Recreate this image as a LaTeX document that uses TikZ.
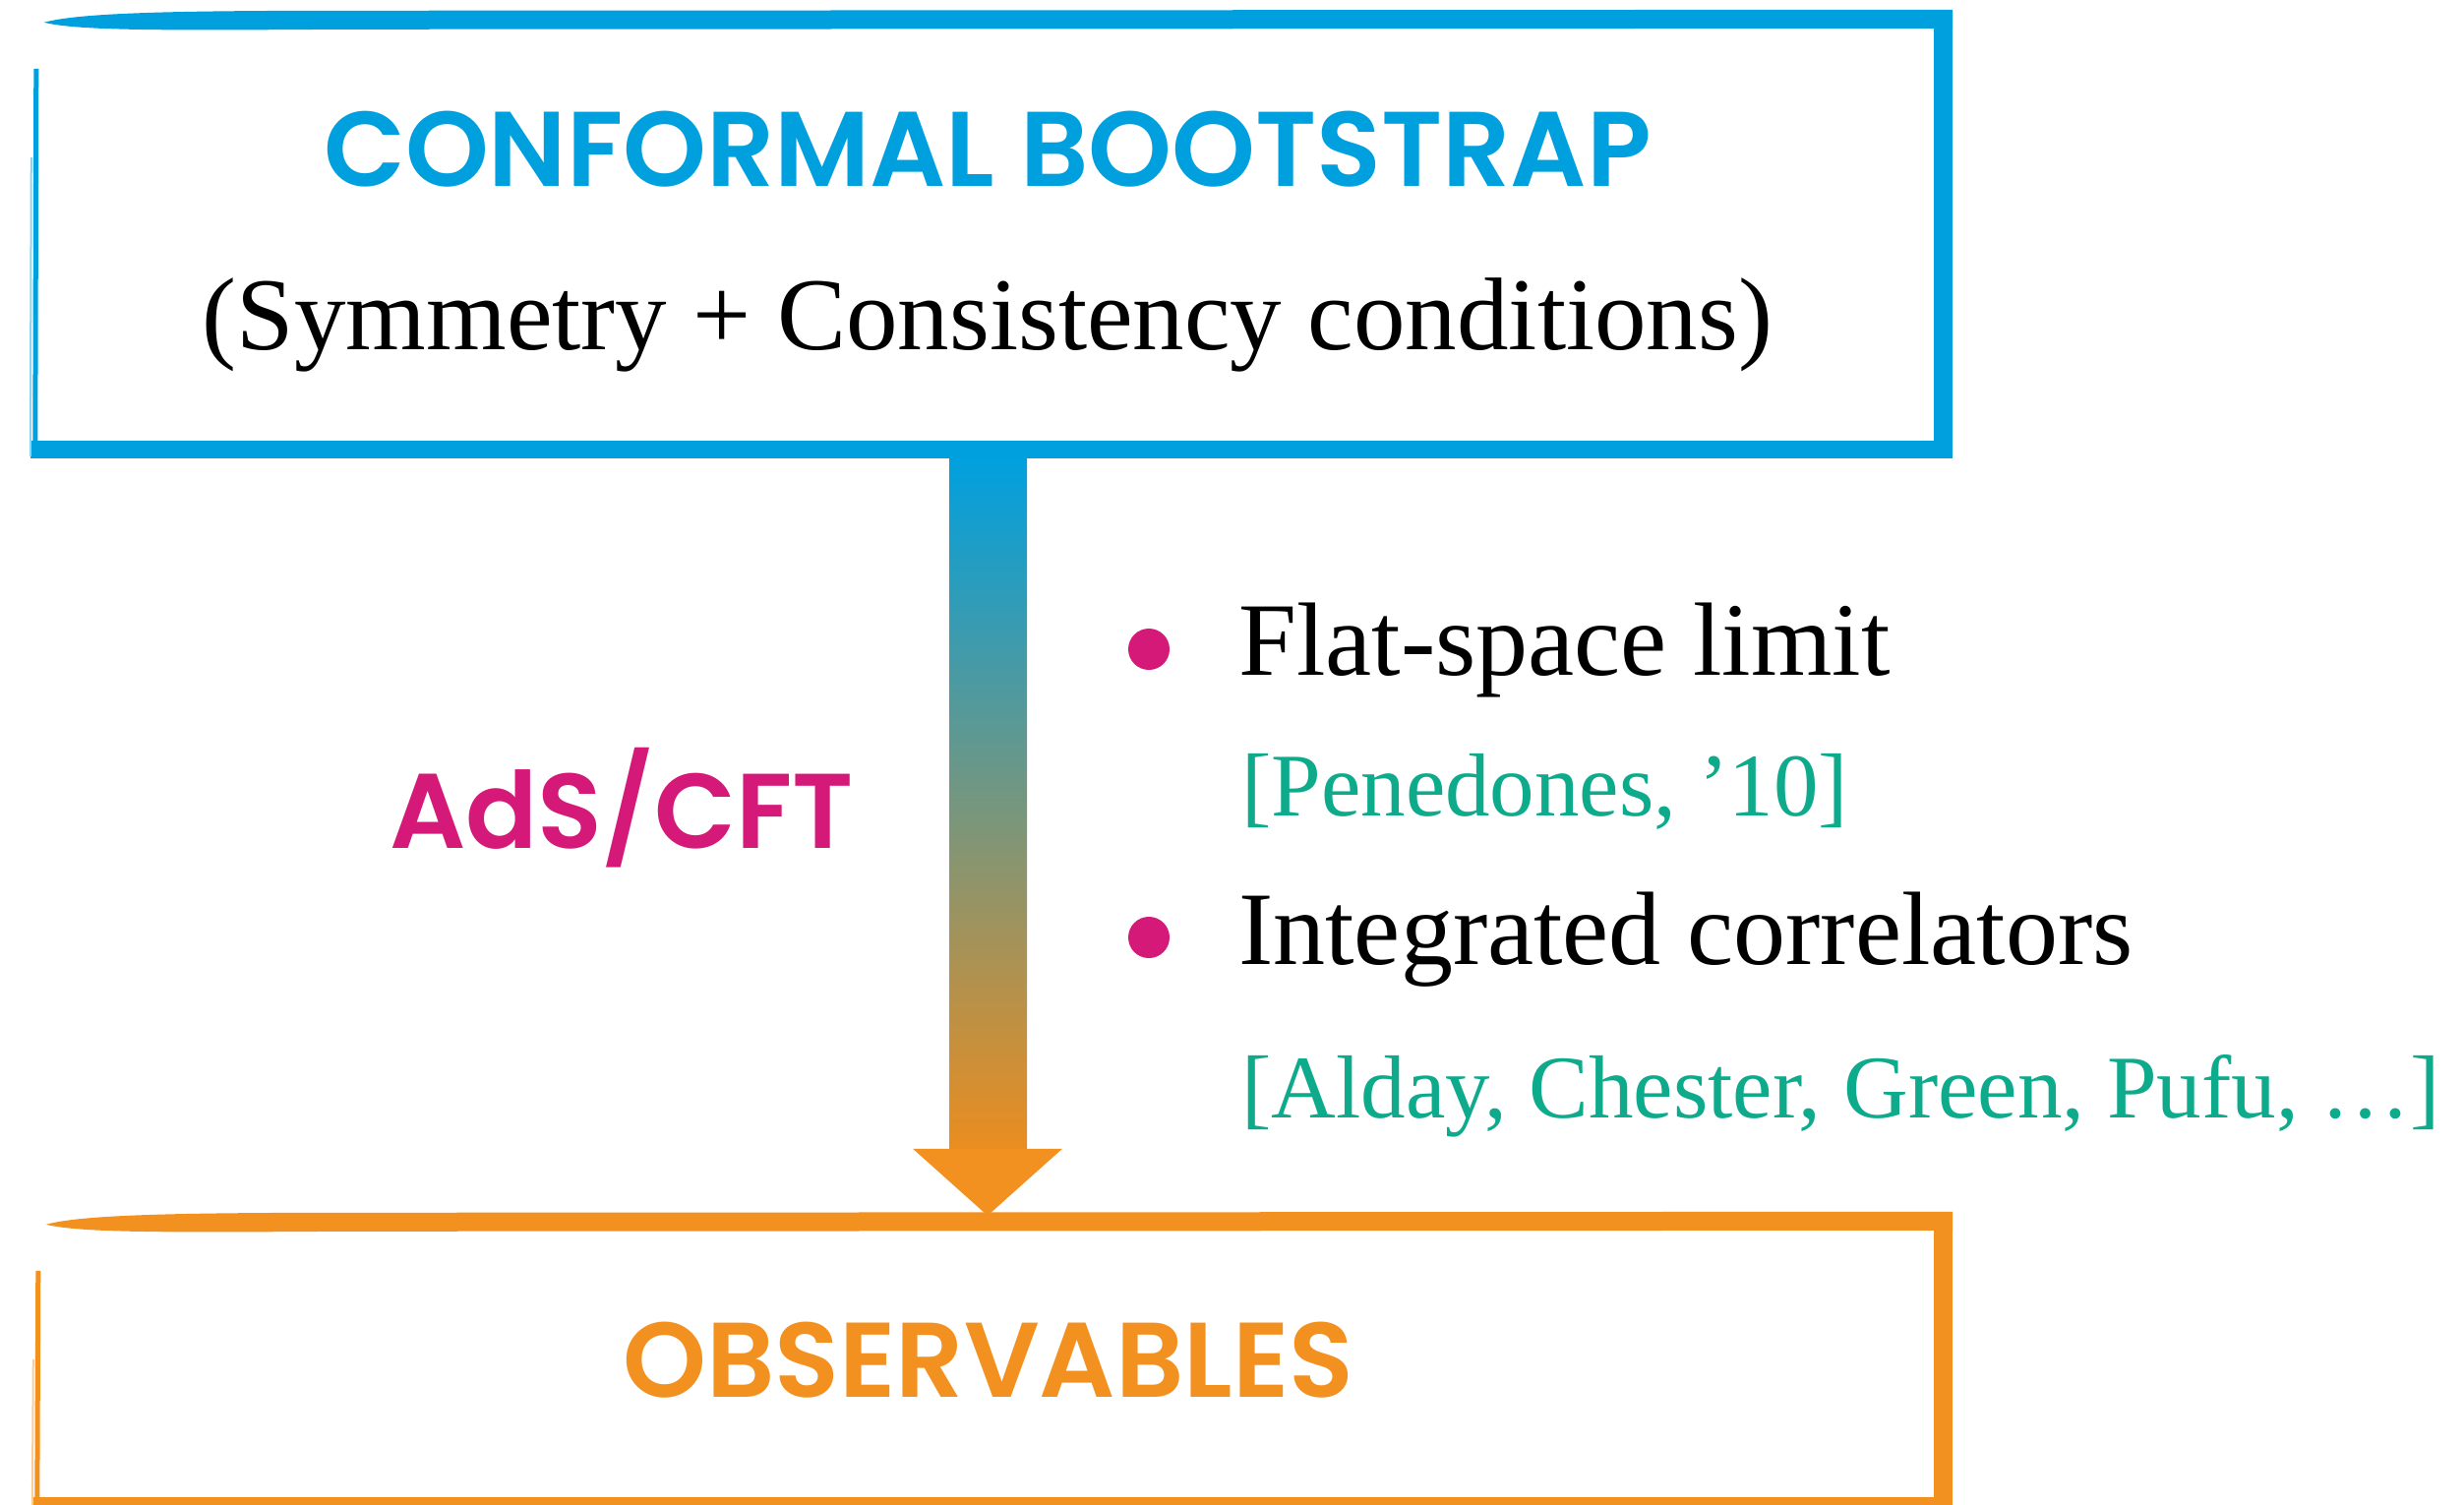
\documentclass[tikz,border=0pt]{standalone}
\usepackage{fontspec}
\usetikzlibrary{calc}
\setmainfont{Liberation Serif}
\newfontfamily\headfont{Poppins SemiBold}

\definecolor{cbblue}{RGB}{0,160,223}
\definecolor{obsorange}{RGB}{242,145,32}
\definecolor{adsmag}{RGB}{213,25,120}
\definecolor{refteal}{RGB}{14,170,140}

% hand-drawn looking frame around a (borderless) node
\newcommand\sketchframe[2]{%
  \fill[#2] ($(#1.north west)+(14,13)$)
     .. controls ($(#1.north west)+(50,3)$) and ($(#1.north west)+(150,1)$) .. ($(#1.north west)+(320,1)$)
     -- ($(#1.north east)+(0,0)$) -- ($(#1.north east)+(0,19)$)
     -- ($(#1.north west)+(320,20)$)
     .. controls ($(#1.north west)+(150,21)$) and ($(#1.north west)+(50,22)$) .. cycle;
  \fill[#2] ($(#1.north east)+(-19,0)$) rectangle (#1.south east);
  \fill[#2] ($(#1.south west)+(0,-18)$) rectangle (#1.south east);
  \draw[#2, line width=5pt] ($(#1.north west)+(6,60)$) -- ($(#1.south west)+(5,-8)$);
  \draw[#2!45, line width=2pt] ($(#1.north west)+(1,150)$) -- ($(#1.south west)+(0,-2)$);
}

\begin{document}
\begin{tikzpicture}[x=1pt, y=-1pt,
  framebox/.style={rectangle, draw=none, inner sep=0pt},
  headtext/.style={font=\headfont\fontsize{108}{120}\selectfont, inner sep=0pt},
  bodytext/.style={font=\fontsize{105}{120}\selectfont, inner sep=0pt},
  itemtext/.style={font=\fontsize{106}{120}\selectfont, inner sep=0pt, anchor=base west},
  reftext/.style={font=\fontsize{91}{110}\selectfont, text=refteal, inner sep=0pt, anchor=base west},
  bulletdot/.style={circle, fill=adsmag, minimum size=42pt, inner sep=0pt}]

\useasboundingbox (0,0) rectangle (2505,1529);
\clip (0,0) rectangle (2505,1529);

% frames
\node[framebox, minimum width=1954pt, minimum height=456pt] (cb) at (1008,238) {};
\node[framebox, minimum width=1952pt, minimum height=308pt] (obs) at (1009,1386) {};
\sketchframe{cb}{cbblue}
\sketchframe{obs}{obsorange}

% texts inside the frames
\node[headtext, text=cbblue] (title) at (1004,152) {CONFORMAL BOOTSTRAP};
\node[bodytext, anchor=base] (sub) at (1004,355) {(Symmetry + Consistency conditions)};
\node[headtext, text=obsorange] (obstext) at (1005,1383) {OBSERVABLES};

% gradient arrow between the frames
\coordinate (atop) at ($(cb.south)+(-3,0)$);
\coordinate (atip) at ($(obs.north)+(-5,4)$);
\shade[top color=cbblue, bottom color=obsorange!97!black]
  ($(atop)+(-40,0)$) rectangle ($(atip)+(40,-68)$);
\fill[obsorange] ($(atip)+(-76,-68)$) -- ($(atip)+(76,-68)$) -- (atip) -- cycle;

% label on the arrow
\node[headtext, text=adsmag, anchor=base] (ads) at (632,862) {AdS/CFT};

% bullet list
\node[bulletdot] (d1) at (1168,660) {};
\node[bulletdot] (d2) at (1168,953) {};
\node[itemtext] (i1) at (1259,686) {Flat-space limit};
\node[reftext] (r1) at (1262,829) {[Penedones, ’10]};
\node[itemtext] (i2) at (1259,980) {Integrated correlators};
\node[reftext] (r2) at (1262,1136) {[Alday, Chester, Green, Pufu, \ldots]};
\end{tikzpicture}
\end{document}
